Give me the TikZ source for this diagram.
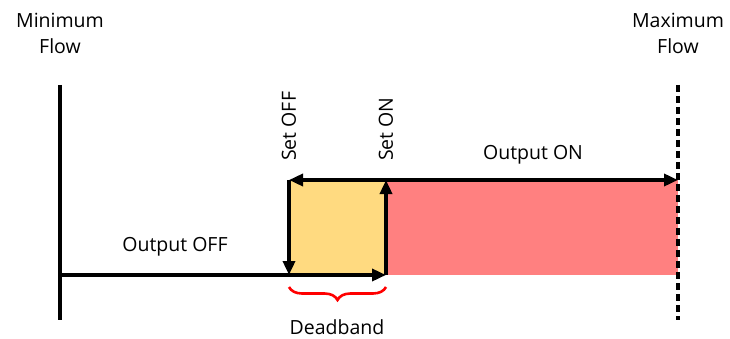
\documentclass[tikz,border=0pt]{standalone}
\usepackage{fontspec}
\setmainfont{Open Sans}
\usetikzlibrary{arrows.meta,decorations.pathreplacing}
\definecolor{yel}{RGB}{255,218,128}
\definecolor{redf}{RGB}{255,128,128}
\begin{document}
\begin{tikzpicture}[x=1pt,y=-1pt,
  lbl/.style={font=\fontsize{19.5}{26}\selectfont, inner sep=0pt, align=center},
  ln/.style={line width=3.4pt},
  arr/.style={ln,-{Triangle[length=14pt,width=12pt]}},
  darr/.style={ln,{Triangle[length=14pt,width=12pt]}-{Triangle[length=14pt,width=12pt]}}]
\useasboundingbox (0,0) rectangle (730,339);
% fills
\fill[yel] (289,180) rectangle (386,275);
\fill[redf] (386,180) rectangle (678,275);
% coordinates
\coordinate (mintop) at (60,85);
\coordinate (minbot) at (60,320);
\coordinate (base) at (60,275);
\coordinate (offtop) at (289,180);
\coordinate (offbot) at (289,275);
\coordinate (ontop) at (386,180);
\coordinate (onbot) at (386,275);
\coordinate (maxtop) at (678,85);
\coordinate (maxbot) at (678,320);
\coordinate (maxmid) at (678,180);
% lines
\draw[ln] (mintop) -- (minbot);
\draw[line width=3.4pt, dash pattern=on 7pt off 4pt] (maxtop) -- (maxbot);
\draw[arr] (base) -- (onbot);
\draw[arr] (onbot) -- (ontop);
\draw[darr] (offtop) -- (maxmid);
\draw[arr] (offtop) -- (offbot);
% brace
\draw[red, line width=2.6pt, decorate, decoration={brace, mirror, amplitude=13pt}] (289,287) -- (386,287);
% labels
\node[lbl] (minl) at (60,33) {Minimum\\Flow};
\node[lbl] (maxl) at (678,33) {Maximum\\Flow};
\node[lbl, rotate=90, anchor=west] (setoff) at (289,161) {Set OFF};
\node[lbl, rotate=90, anchor=west] (seton) at (386,161) {Set ON};
\node[lbl] (outon) at (533,155) {Output ON};
\node[lbl] (outoff) at (175,247) {Output OFF};
\node[lbl] (dead) at (337,327) {Deadband};
\end{tikzpicture}
\end{document}
